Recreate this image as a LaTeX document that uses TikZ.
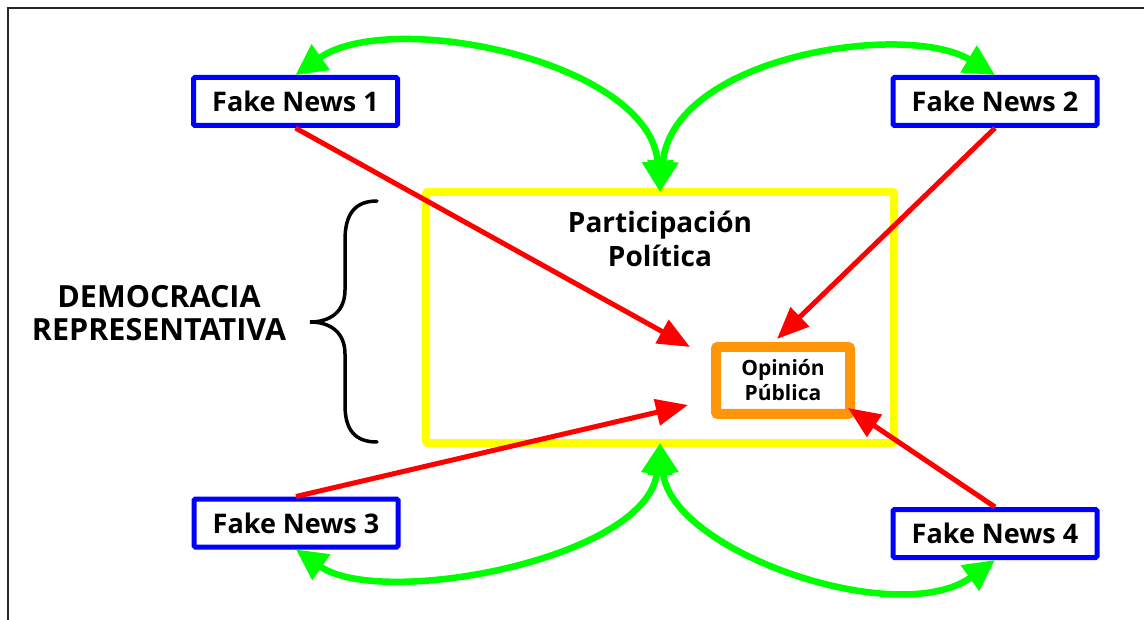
\documentclass[tikz,border=0pt]{standalone}
\usepackage{fontspec}
\setmainfont{Open Sans}
\usetikzlibrary{arrows.meta,calc}
\definecolor{fnblue}{RGB}{0,0,255}
\definecolor{ppyellow}{RGB}{255,255,0}
\definecolor{oporange}{RGB}{255,150,10}
\definecolor{agreen}{RGB}{0,255,0}
\definecolor{ared}{RGB}{255,0,0}
\begin{document}
\begin{tikzpicture}[x=1pt,y=-1pt,
  fnbox/.style={draw=fnblue,line width=5pt,rounded corners=1.5pt,fill=white,
    minimum width=204pt,minimum height=48pt,inner sep=0pt,
    font=\fontsize{27}{30}\selectfont\bfseries},
  ppbox/.style={draw=ppyellow,line width=8pt,rounded corners=2pt,
    minimum width=468pt,minimum height=251pt,inner sep=0pt,outer sep=0pt},
  opbox/.style={draw=oporange,line width=10pt,rounded corners=2pt,fill=white,
    minimum width=134pt,minimum height=67pt,inner sep=0pt,align=center,
    font=\fontsize{21}{25}\selectfont\bfseries},
  redarrow/.style={draw=ared,line width=5pt,-{Triangle[length=32pt,width=26pt]}},
  greenarrow/.style={draw=agreen,line width=6.5pt,
    {Triangle[length=31pt,width=30pt]}-{Triangle[length=31pt,width=30pt]}},
  bigtext/.style={align=center,font=\fontsize{30.5}{33.5}\selectfont\bfseries},
  midtext/.style={align=center,font=\fontsize{28}{34}\selectfont\bfseries}]
\useasboundingbox (0,0) rectangle (1144,620);
\fill[white] (0,0) rectangle (1144,620);
% frame
\draw[line width=2pt,black!85] (8,620) -- (8,8) -- (1144,8);

% boxes
\node[ppbox] (pp) at (660,317.5) {};
\node[midtext] (pptext) at (660,239) {Participación\\Política};
\node[opbox] (op) at (783,380.5) {Opinión\\Pública};

\node[fnbox] (fn1) at (295.5,101.5) {Fake News 1};
\node[fnbox] (fn2) at (995,101.5) {Fake News 2};
\node[fnbox] (fn3) at (296,523) {Fake News 3};
\node[fnbox] (fn4) at (995,533.5) {Fake News 4};

% democracia label and brace
\node[bigtext] (dem) at (159,313) {DEMOCRACIA\\REPRESENTATIVA};
\draw[line width=3.5pt,line cap=round]
  (377,201) .. controls (355,201) and (345,214) .. (345,240) -- (345,290)
  .. controls (345,311) and (331,322) .. (310,322)
  .. controls (331,322) and (345,333) .. (345,354) -- (345,405)
  .. controls (345,430) and (355,442) .. (377,442);

% red arrows
\coordinate (t1) at (690,347);
\coordinate (t3) at (688,405);
\coordinate (t2) at ($(op.north)+(-6,-3)$);
\coordinate (t4) at (848,408);
\draw[redarrow] (fn1.south) -- (t1);
\draw[redarrow] (fn2.south) -- (t2);
\draw[redarrow] (fn3.north) -- (t3);
\draw[redarrow] (fn4.north) -- (t4);

% green arrows
\draw[greenarrow] (pp.north) .. controls (650,61) and (390,8) .. (fn1.north);
\draw[greenarrow] (pp.north) .. controls (673,56) and (906,21) .. (fn2.north);
\draw[greenarrow] (pp.south) .. controls (648,559) and (381,609) .. (fn3.south);
\draw[greenarrow] (pp.south) .. controls (671,552) and (898,630) .. (fn4.south);
\end{tikzpicture}
\end{document}
